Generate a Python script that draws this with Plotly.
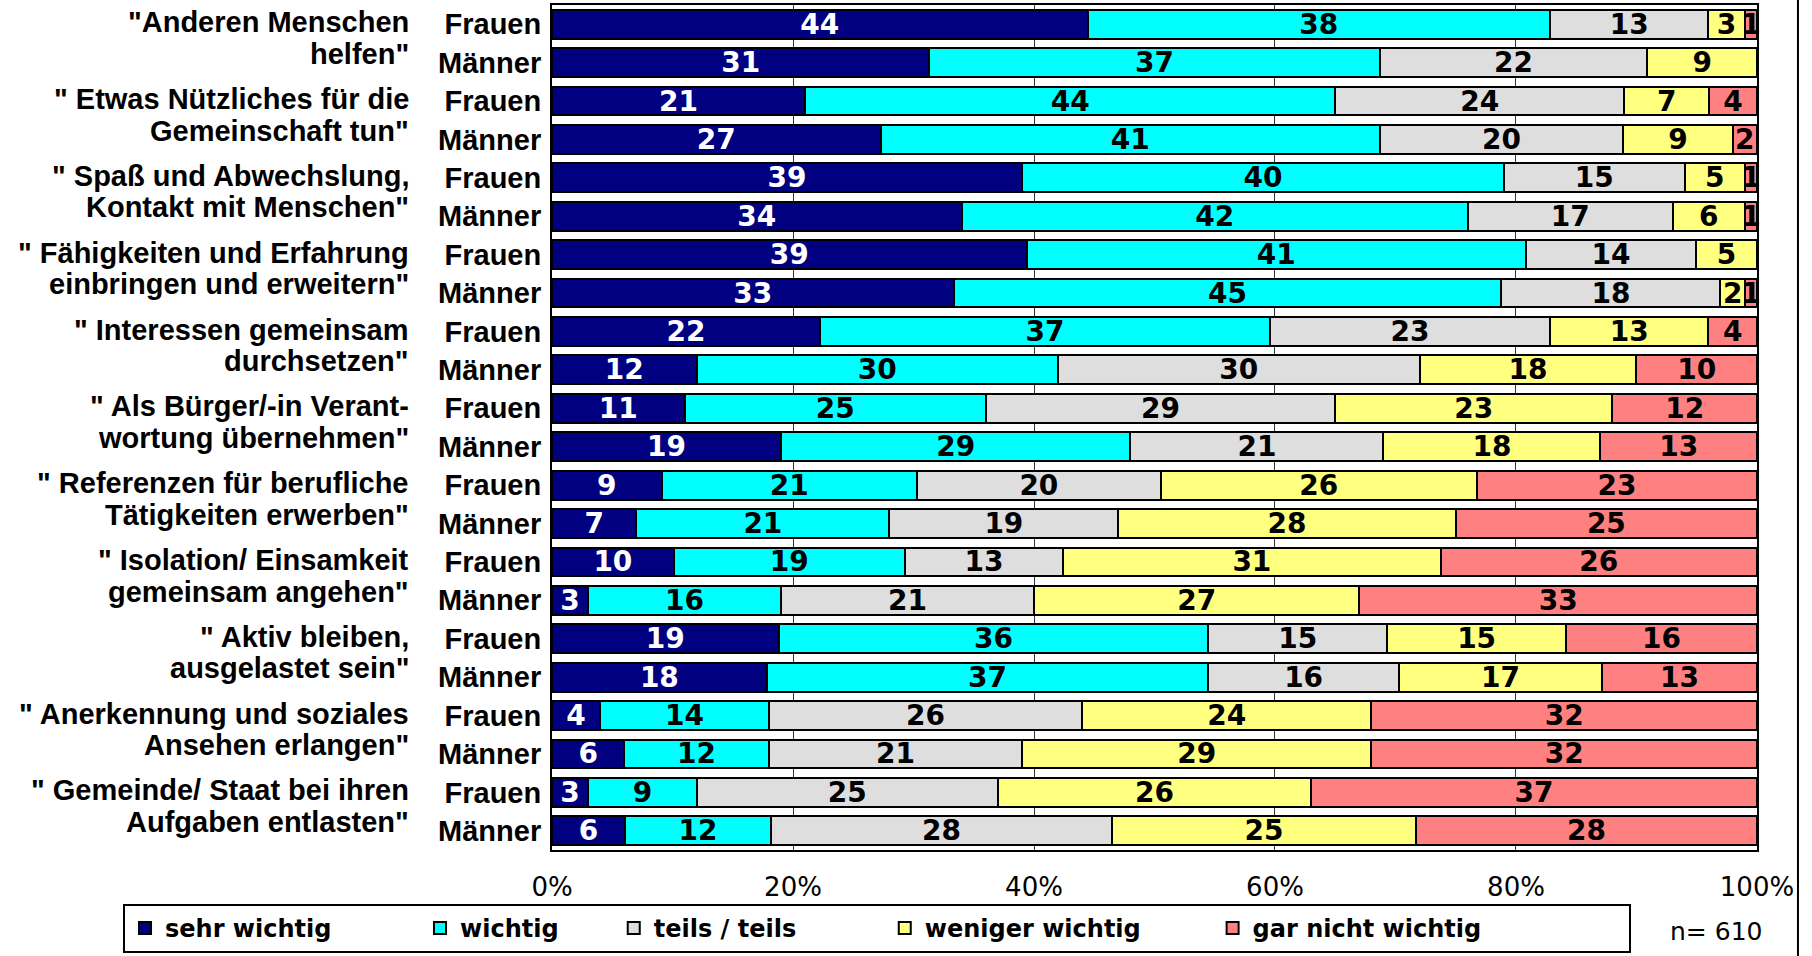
import plotly.graph_objects as go

# ---------------- data ----------------
cat_line1 = ['"Anderen Menschen', '" Etwas Nützliches für die', '" Spaß und Abwechslung,',
             '" Fähigkeiten und Erfahrung', '" Interessen gemeinsam', '" Als Bürger/-in Verant-',
             '" Referenzen für berufliche', '" Isolation/ Einsamkeit', '" Aktiv bleiben,',
             '" Anerkennung und soziales', '" Gemeinde/ Staat bei ihren']
cat_line2 = ['helfen"', 'Gemeinschaft tun"', 'Kontakt mit Menschen"', 'einbringen und erweitern"',
             'durchsetzen"', 'wortung übernehmen"', 'Tätigkeiten erwerben"', 'gemeinsam angehen"',
             'ausgelastet sein"', 'Ansehen erlangen"', 'Aufgaben entlasten"']
genders = ["Frauen", "Männer"]

# values in bar order: (cat1 Frauen, cat1 Männer, cat2 Frauen, ...)
sehr_wichtig = [44, 31, 21, 27, 39, 34, 39, 33, 22, 12, 11, 19, 9, 7, 10, 3, 19, 18, 4, 6, 3, 6]
wichtig = [38, 37, 44, 41, 40, 42, 41, 45, 37, 30, 25, 29, 21, 21, 19, 16, 36, 37, 14, 12, 9, 12]
teils_teils = [13, 22, 24, 20, 15, 17, 14, 18, 23, 30, 29, 21, 20, 19, 13, 21, 15, 16, 26, 21, 25, 28]
weniger_wichtig = [3, 9, 7, 9, 5, 6, 5, 2, 13, 18, 23, 18, 26, 28, 31, 27, 15, 17, 24, 29, 26, 25]
gar_nicht_wichtig = [1, 0, 4, 2, 1, 1, 0, 1, 4, 10, 12, 13, 23, 25, 26, 33, 16, 13, 32, 32, 37, 28]

series_names = ["sehr wichtig", "wichtig", "teils / teils", "weniger wichtig", "gar nicht wichtig"]
series_values = [sehr_wichtig, wichtig, teils_teils, weniger_wichtig, gar_nicht_wichtig]
x_tick_vals = [0, 20, 40, 60, 80, 100]
x_tick_text = ["0%", "20%", "40%", "60%", "80%", "100%"]
n_note = "n= 610"

# ---------------- styling ----------------
colors = ["#000080", "#00FFFF", "#DEDEDE", "#FFFF80", "#FF8080"]
text_colors = ["white", "black", "black", "black", "black"]
legend_pad = [10, 6, 10, 8, 17]  # trailing non-breaking spaces to widen legend entries

n_bars = len(cat_line1) * len(genders)
y_pos = list(range(n_bars))
y_text = [genders[i % 2] for i in range(n_bars)]

fig = go.Figure()
for name, vals, col, tcol, pad in zip(series_names, series_values, colors, text_colors, legend_pad):
    fig.add_trace(go.Bar(
        name=name + "\u00a0" * pad, x=vals, y=y_pos, orientation="h",
        marker=dict(color=col, line=dict(color="black", width=2)),
        text=[str(v) if v > 0 else "" for v in vals],
        textposition="inside", insidetextanchor="middle", textangle=0,
        textfont=dict(family="DejaVu Sans", size=28, color=tcol, weight="bold"),
        cliponaxis=False,
    ))

# category labels (two lines each)
for k, (l1, l2) in enumerate(zip(cat_line1, cat_line2)):
    for line, yy in ((l1, 2 * k - 0.05), (l2, 2 * k + 1 - 0.23)):
        fig.add_annotation(x=0, xref="paper", y=yy, yref="y", text=line, showarrow=False,
                           xanchor="right", yanchor="middle", xshift=-141,
                           font=dict(family="Liberation Sans, Arial", size=29, color="black", weight="bold"))

fig.add_annotation(x=0.966, xref="paper", y=-0.097, yref="paper", text=n_note, showarrow=False,
                   xanchor="center", yanchor="middle",
                   font=dict(family="DejaVu Sans", size=25, color="black"))

# right border line of the chart object
fig.add_shape(type="line", xref="paper", yref="paper", x0=1.034, x1=1.034, y0=-0.13, y1=1.01,
              line=dict(color="black", width=2), layer="above")

fig.update_layout(
    barmode="stack", barnorm="percent", bargap=0.25,
    width=1812, height=956,
    margin=dict(l=552, r=55, t=5, b=106, autoexpand=False),
    plot_bgcolor="white", paper_bgcolor="white",
    uniformtext=dict(minsize=28, mode="show"),
    showlegend=True,
    legend=dict(orientation="h", x=-0.356, xanchor="left", y=-0.1219, yanchor="bottom",
                bordercolor="black", borderwidth=2, bgcolor="white",
                font=dict(family="DejaVu Sans", size=24, color="black", weight="bold"),
                traceorder="normal", itemwidth=30),
    xaxis=dict(range=[0, 100.001], tickvals=x_tick_vals, ticktext=x_tick_text,
               showgrid=True, gridcolor="#333333", gridwidth=1, zeroline=False,
               showline=True, linecolor="black", linewidth=2, mirror=True,
               ticks="", ticklabelstandoff=13, automargin=False,
               tickfont=dict(family="DejaVu Sans", size=26, color="black")),
    yaxis=dict(range=[21.5, -0.5], tickvals=y_pos, ticktext=y_text,
               showgrid=False, zeroline=False,
               showline=True, linecolor="black", linewidth=2, mirror=True,
               ticks="", ticklabelstandoff=3, automargin=False,
               tickfont=dict(family="Liberation Sans, Arial", size=29, color="black", weight="bold")),
)

fig.write_html("out.html", config={"displayModeBar": False},
               post_script="document.body.style.margin='0px';")
